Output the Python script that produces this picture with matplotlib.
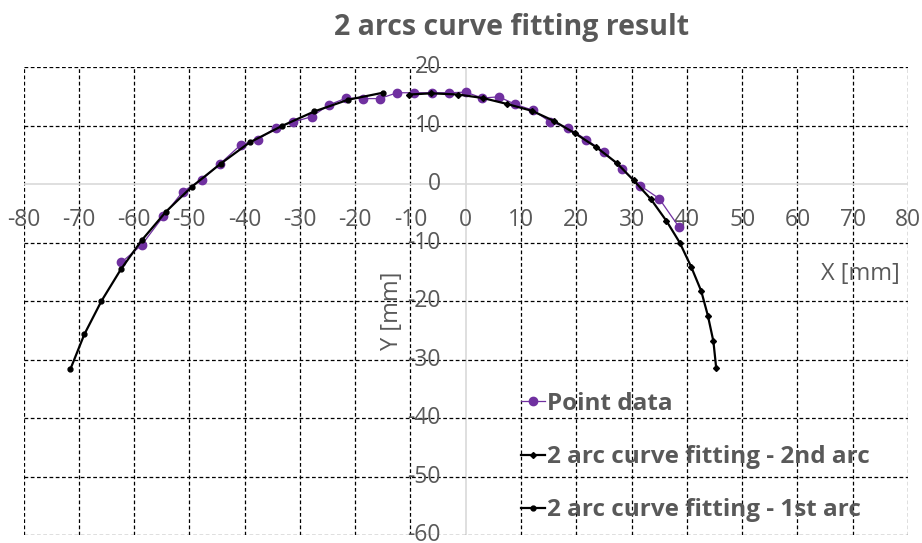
import matplotlib.pyplot as plt
from matplotlib.transforms import offset_copy

# Measured profile points
point_x = [-62.3, -58.6, -54.7, -51.2, -47.8, -44.4, -40.7, -37.6, -34.4, -31.2, -27.9,
           -24.8, -21.6, -18.6, -15.6, -12.4, -9.3, -6.1, -3.1, 0.0, 3.0, 6.0, 9.0,
           12.2, 15.3, 18.5, 21.8, 25.0, 28.3, 31.6, 35.0, 38.6]
point_y = [-13.4, -10.4, -5.5, -1.3, 0.7, 3.5, 6.7, 7.6, 9.6, 10.6, 11.5,
           13.5, 14.7, 14.6, 14.6, 15.6, 15.6, 15.6, 15.6, 15.7, 14.7, 14.9, 13.6,
           12.6, 10.6, 9.6, 7.6, 5.5, 2.5, -0.3, -2.5, -7.4]

# Fitted arcs
arc1_x = [-71.5, -69.0, -65.9, -62.4, -58.6, -54.2, -49.6, -44.3, -39.1, -33.3, -27.4, -21.3, -15.0]
arc1_y = [-31.6, -25.7, -20.0, -14.6, -9.6, -4.7, -0.5, 3.5, 7.1, 9.9, 12.4, 14.4, 15.6]

arc2_x = [-10.2, -6.2, -1.4, 3.1, 7.4, 12.0, 15.9, 19.7, 23.6, 27.3, 30.4, 33.5, 36.3,
          38.7, 40.8, 42.6, 43.8, 44.8, 45.3]
arc2_y = [15.3, 15.5, 15.3, 14.7, 13.7, 12.5, 10.8, 8.7, 6.3, 3.6, 0.6, -2.6, -6.3,
          -10.0, -14.2, -18.3, -22.5, -26.9, -31.4]

x_ticks = list(range(-80, 81, 10))
y_ticks = list(range(-60, 21, 10))

plt.rcParams['font.family'] = ['Open Sans', 'DejaVu Sans']
text_color = "#595959"

fig = plt.figure(figsize=(9.22, 5.43), dpi=100)
ax = fig.add_axes([0.0255, 0.0147, 0.9593, 0.8619])
ax.set_xlim(-80, 80)
ax.set_ylim(-60, 20)

for s in ax.spines.values():
    s.set_visible(False)
ax.set_xticks([])
ax.set_yticks([])

# dashed grid, axis lines through the origin
for xv in x_ticks:
    if xv == 0:
        ax.axvline(0, color="#d9d9d9", lw=1.2, zorder=1)
    else:
        ax.axvline(xv, color="black", lw=0.9, ls=(0, (3, 2)), zorder=1)
for yv in y_ticks:
    if yv == 0:
        ax.axhline(0, color="#d9d9d9", lw=1.2, zorder=1)
    else:
        ax.axhline(yv, color="black", lw=0.9, ls=(0, (3, 2)), zorder=1)

# tick labels placed along the crossing axes
xlab_tr = offset_copy(ax.transData, fig=fig, x=0, y=-36, units="dots")
for xv in x_ticks:
    ax.text(xv, 0, str(xv), transform=xlab_tr, ha="center", va="center",
            fontsize=16.5, color=text_color, zorder=2)
ylab_tr = offset_copy(ax.transData, fig=fig, x=-25, y=0, units="dots")
for yv in y_ticks:
    ax.text(0, yv, str(yv), transform=ylab_tr, ha="right", va="center",
            fontsize=16.5, color=text_color, zorder=2)

ax.plot(point_x, point_y, color="#7030a0", lw=0.9, marker="o", ms=6,
        label="Point data", zorder=3)
ax.plot(arc2_x, arc2_y, color="black", lw=1.6, marker="D", ms=3,
        label="2 arc curve fitting - 2nd arc", zorder=4)
ax.plot(arc1_x, arc1_y, color="black", lw=1.6, marker="o", ms=3.5,
        label="2 arc curve fitting - 1st arc", zorder=4)

fig.text(512 / 922, 1 - 28 / 543, "2 arcs curve fitting result", ha="center", va="center",
         fontsize=20.5, fontweight="bold", color=text_color)
fig.text(900 / 922, 1 - 274 / 543, "X [mm]", ha="right", va="center",
         fontsize=17, color=text_color)
fig.text(392 / 922, 1 - 311 / 543, "Y [mm]", ha="center", va="center", rotation=90,
         fontsize=17, color=text_color)

leg = ax.legend(loc="upper left", bbox_to_anchor=(521 / 922, 1 - 392 / 543),
                bbox_transform=fig.transFigure, frameon=False, borderpad=0,
                borderaxespad=0, handlelength=1.0, handletextpad=0.08,
                labelspacing=1.2, prop={"size": 17.5, "weight": "bold"})
for t in leg.get_texts():
    t.set_color(text_color)

fig.savefig("out.png", dpi=100)
